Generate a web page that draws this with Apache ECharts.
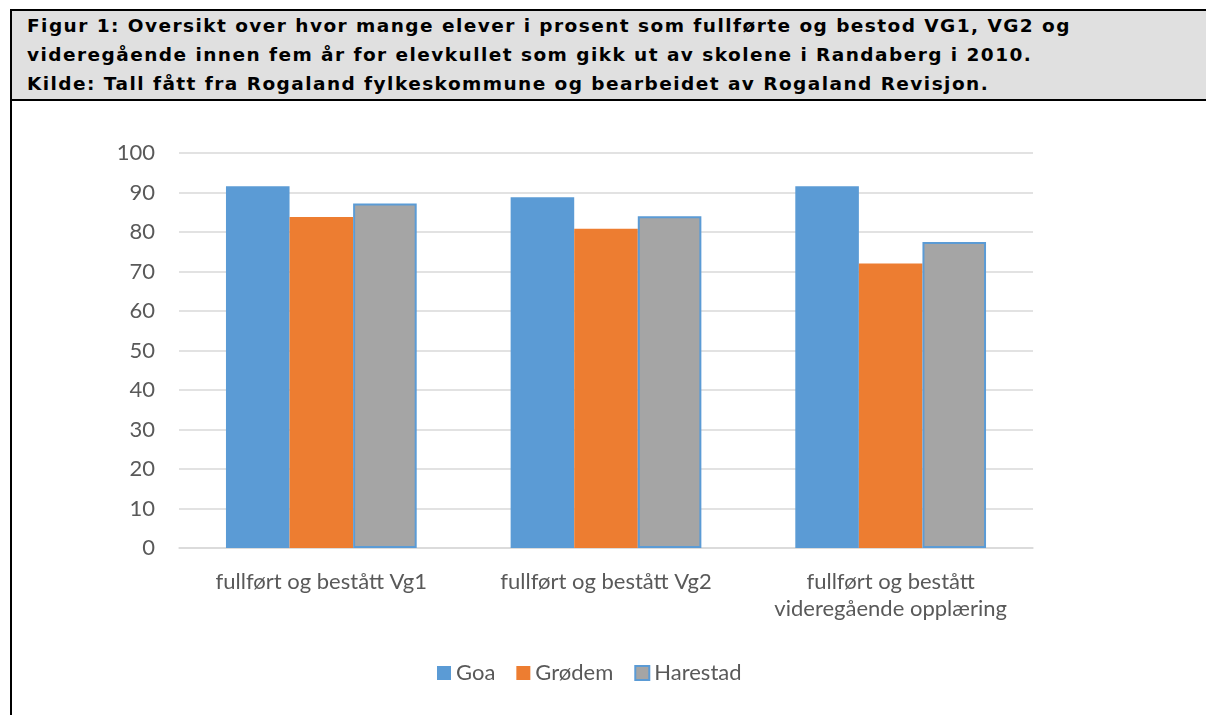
<!DOCTYPE html>
<html>
<head>
<meta charset="utf-8">
<script src="https://cdn.jsdelivr.net/npm/echarts@6/dist/echarts.min.js"></script>
<style>
  body { margin: 0; background: #fff; width: 1206px; height: 715px; overflow: hidden; position: relative; }
  #frame {
    position: absolute; left: 10px; top: 9px; width: 1200px; height: 710px;
    border-top: 2px solid #000; border-left: 2px solid #000;
  }
  #caption {
    background: #e0e0e0; height: 90px; border-bottom: 2px solid #000;
    font-family: "DejaVu Sans", Verdana, sans-serif; font-weight: bold;
    font-size: 18.5px; line-height: 29px; letter-spacing: 1.45px; color: #000;
    padding: 0 0 0 15px; box-sizing: border-box; white-space: nowrap;
  }
  #chart { position: absolute; left: 0; top: 0; width: 1206px; height: 715px; }
</style>
</head>
<body>
<div id="frame">
  <div id="caption">Figur 1: Oversikt over hvor mange elever i prosent som fullførte og bestod VG1, VG2 og<br>videregående innen fem år for elevkullet som gikk ut av skolene i Randaberg i 2010.<br>Kilde: Tall fått fra Rogaland fylkeskommune og bearbeidet av Rogaland Revisjon.</div>
</div>
<div id="chart"></div>
<script>
// kategorier og verdier (prosent)
var categories = ['fullført og bestått Vg1', 'fullført og bestått Vg2', 'fullført og bestått\nvideregående opplæring'];
var goa = [91.6, 88.8, 91.6];
var grodem = [83.8, 80.8, 72.0];
var harestad = [87.2, 84.0, 77.5];
var yTicks = [0, 10, 20, 30, 40, 50, 60, 70, 80, 90, 100];

var chart = echarts.init(document.getElementById('chart'));
var txt = '#595959';
chart.setOption({
  animation: false,
  textStyle: { fontFamily: 'Lato' },
  grid: { left: 179, right: 173, top: 153, bottom: 167 },
  legend: {
    left: 432, top: 657,
    icon: 'rect', itemWidth: 14, itemHeight: 14, itemGap: 21,
    textStyle: { color: txt, fontSize: 22, fontFamily: 'Lato' },
    data: ['Goa', 'Grødem', 'Harestad']
  },
  xAxis: {
    type: 'category',
    data: categories,
    axisTick: { show: false },
    axisLine: { lineStyle: { color: '#d9d9d9', width: 1.5 } },
    axisLabel: { color: txt, fontSize: 22, margin: 20, lineHeight: 27, interval: 0, fontFamily: 'Lato' }
  },
  yAxis: {
    type: 'value',
    min: yTicks[0], max: yTicks[yTicks.length - 1], interval: 10,
    axisLine: { show: false },
    axisTick: { show: false },
    splitLine: { lineStyle: { color: '#d9d9d9', width: 1.5 } },
    axisLabel: { color: txt, fontSize: 22, margin: 24, fontFamily: 'Lato' }
  },
  series: [
    { name: 'Goa', type: 'bar', data: goa, barGap: '0%', barCategoryGap: '33%',
      itemStyle: { color: '#5b9bd5' } },
    { name: 'Grødem', type: 'bar', data: grodem,
      itemStyle: { color: '#ed7d31' } },
    { name: 'Harestad', type: 'bar', data: harestad,
      itemStyle: { color: '#a5a5a5', borderColor: '#5b9bd5', borderWidth: 2 } }
  ]
});
</script>
</body>
</html>
